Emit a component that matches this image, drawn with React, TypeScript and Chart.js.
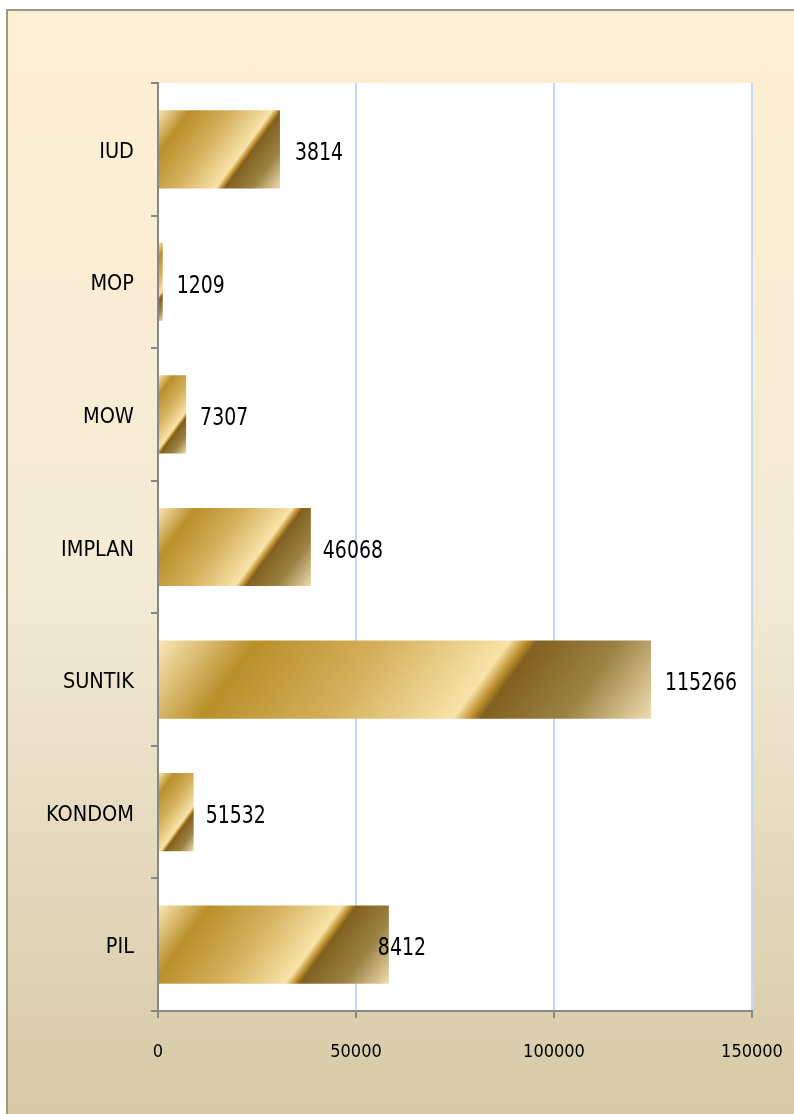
import React, { useEffect, useRef } from "react";
import { Chart, registerables } from "chart.js";

Chart.register(...registerables);

const categories = ["IUD", "MOP", "MOW", "IMPLAN", "SUNTIK", "KONDOM", "PIL"];
const barValues = [30800, 1200, 7100, 38600, 124500, 9000, 58300];
const dataLabels = ["3814", "1209", "7307", "46068", "115266", "51532", "8412"];
const xMin = 0;
const xMax = 150000;
const xStep = 50000;

const FONT = "'DejaVu Sans Condensed', 'DejaVu Sans', sans-serif";
const BAR_PCT = 0.59;

const goldStops: [number, string][] = [
  [0, "#fbe8b8"],
  [0.18, "#b98f2a"],
  [0.42, "#d6b25f"],
  [0.64, "#f8e3a8"],
  [0.655, "#dcb96e"],
  [0.67, "#bf922f"],
  [0.69, "#82601f"],
  [0.84, "#9b8243"],
  [1, "#efdcb0"],
];

function goldFill(c: any) {
  const chart = c.chart;
  const xs = chart.scales?.x;
  const ys = chart.scales?.y;
  if (c.type !== "data" || !xs || !ys || !chart.chartArea) return "#c9a040";
  const v = c.raw as number;
  const x0 = xs.getPixelForValue(0);
  const x1 = xs.getPixelForValue(v);
  const yc = ys.getPixelForValue(c.dataIndex);
  const band = Math.abs(ys.getPixelForValue(1) - ys.getPixelForValue(0));
  const h = (band * BAR_PCT) / 2;
  const dx = 78, dy = 57;
  const len = Math.hypot(dx, dy);
  const ux = dx / len, uy = dy / len;
  const ax = x0, ay = yc - h;
  const proj = (x1 - ax) * ux + (yc + h - ay) * uy;
  const g = chart.ctx.createLinearGradient(ax, ay, ax + ux * proj, ay + uy * proj);
  goldStops.forEach(([o, col]) => g.addColorStop(o, col));
  return g;
}

const plotBg = {
  id: "plotBg",
  beforeDraw(chart: any) {
    const { ctx, chartArea } = chart;
    if (!chartArea) return;
    ctx.save();
    ctx.fillStyle = "#ffffff";
    ctx.fillRect(chartArea.left, chartArea.top, chartArea.right - chartArea.left, chartArea.bottom - chartArea.top);
    ctx.restore();
  },
};

const valueLabels = {
  id: "valueLabels",
  afterDatasetsDraw(chart: any, _args: any, opts: any) {
    const { ctx } = chart;
    const meta = chart.getDatasetMeta(0);
    meta.data.forEach((el: any, i: number) => {
      const off = (opts.offsets && opts.offsets[i]) ?? 14;
      ctx.save();
      ctx.font = `21px ${FONT}`;
      ctx.fillStyle = "#000000";
      ctx.textAlign = "left";
      ctx.textBaseline = "middle";
      ctx.translate(el.x + off, el.y + 4);
      ctx.scale(1, 1.22);
      ctx.fillText(dataLabels[i], 0, 0);
      ctx.restore();
    });
  },
};

export default function App() {
  const ref = useRef<HTMLCanvasElement | null>(null);

  useEffect(() => {
    if (!ref.current) return;
    const chart = new Chart(ref.current, {
      type: "bar",
      data: {
        labels: categories,
        datasets: [
          {
            data: barValues,
            backgroundColor: goldFill,
            borderWidth: 0,
            barPercentage: BAR_PCT,
            categoryPercentage: 1,
          },
        ],
      },
      options: {
        indexAxis: "y",
        animation: false,
        responsive: false,
        devicePixelRatio: 1,
        layout: { padding: { top: 83, right: 42, left: 0, bottom: 0 } },
        plugins: {
          legend: { display: false },
          tooltip: { enabled: false },
          valueLabels: { offsets: [15, 14, 14, 12, 14, 12, -11] },
        } as any,
        scales: {
          x: {
            type: "linear",
            min: xMin,
            max: xMax,
            ticks: {
              stepSize: xStep,
              color: "#000000",
              font: { family: FONT, size: 18 },
              padding: 24,
              maxRotation: 0,
              callback: (v: any) => String(v),
            },
            grid: {
              color: "#c3d9f3",
              lineWidth: 2,
              tickColor: "#888888",
              tickLength: 7,
              drawOnChartArea: true,
            },
            border: { display: true, color: "#888888", width: 2 },
            afterFit: (s: any) => {
              s.height = 103;
              s.paddingRight = 0;
              s.paddingLeft = 0;
            },
          },
          y: {
            type: "category",
            ticks: {
              color: "#000000",
              font: { family: FONT, size: 21.5 },
              padding: 17,
              labelOffset: 3,
            },
            grid: {
              offset: true,
              drawOnChartArea: false,
              color: "#888888",
              lineWidth: 2,
              tickLength: 7,
            },
            border: { display: true, color: "#888888", width: 2 },
            afterFit: (s: any) => {
              s.width = 158;
              s.paddingTop = 0;
              s.paddingBottom = 0;
            },
          },
        },
      },
      plugins: [plotBg, valueLabels],
    });
    return () => chart.destroy();
  }, []);

  return (
    <div style={{ position: "fixed", left: 0, top: 0, width: 794, height: 1114, overflow: "hidden" }}>
      <div
        style={{
          position: "absolute",
          left: 6,
          top: 9,
          width: 820,
          height: 1140,
          borderTop: "2px solid #9d9788",
          borderLeft: "2px solid #9d9788",
          background: "linear-gradient(to bottom, #fdefd2 0%, #f4ebd6 50%, #d4c7a3 100%)",
        }}
      />
      <canvas
        ref={ref}
        width={794}
        height={1114}
        style={{ position: "absolute", left: 0, top: 0, width: 794, height: 1114 }}
      />
    </div>
  );
}
